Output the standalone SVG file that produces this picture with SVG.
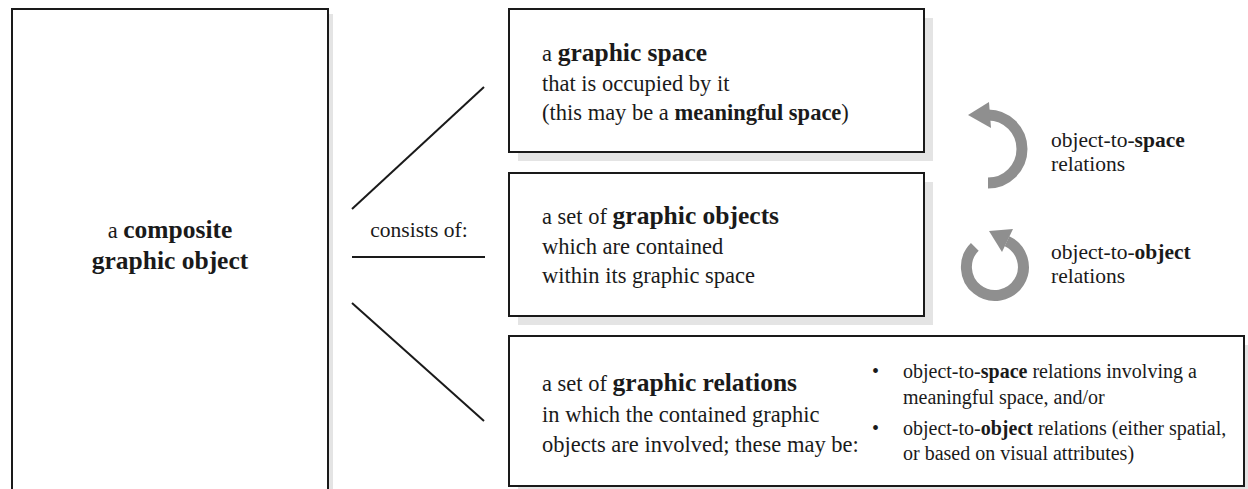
<svg xmlns="http://www.w3.org/2000/svg" width="1248" height="489" viewBox="0 0 1248 489">
<style>
.box{fill:#fff;stroke:#1a1a1a;stroke-width:2}
.shadow{fill:#e4e4e4}
.t{font-family:"Liberation Serif","Times New Roman",serif;font-size:22.5px;fill:#1a1a1a}
.b{font-weight:bold;font-size:25.5px}
.s{font-size:20px}
.m{font-size:21.5px}
.conn{stroke:#1a1a1a;stroke-width:2;fill:none}
.cyc{fill:none;stroke:#8f8f8f;stroke-width:11}
.head{fill:#8f8f8f}
</style>
<rect width="1248" height="489" fill="#fff"/>

<g id="node-composite">
  <rect class="shadow" x="17" y="14" width="316" height="490"/>
  <rect class="box" x="12" y="9" width="316" height="490"/>
  <text class="t" text-anchor="middle" x="170" y="238">a <tspan class="b">composite</tspan></text>
  <text class="t b" text-anchor="middle" x="170" y="269">graphic object</text>
</g>

<g id="connectors">
  <line class="conn" x1="352" y1="209" x2="484" y2="87"/>
  <line class="conn" x1="352" y1="257" x2="485" y2="257"/>
  <line class="conn" x1="352" y1="303" x2="484" y2="421"/>
</g>

<g id="label-consists">
  <text class="t m" text-anchor="middle" x="419" y="237">consists of:</text>
</g>

<g id="node-space">
  <rect class="shadow" x="518" y="18" width="415" height="143"/>
  <rect class="box" x="509" y="9" width="415" height="143"/>
  <text class="t" x="542" y="61">a <tspan class="b">graphic space</tspan></text>
  <text class="t" x="542" y="91">that is occupied by it</text>
  <text class="t" x="542" y="120">(this may be a <tspan font-weight="bold">meaningful space</tspan>)</text>
</g>

<g id="node-objects">
  <rect class="shadow" x="518" y="182" width="415" height="143"/>
  <rect class="box" x="509" y="173" width="415" height="143"/>
  <text class="t" x="542" y="224">a set of <tspan class="b">graphic objects</tspan></text>
  <text class="t" x="542" y="254">which are contained</text>
  <text class="t" x="542" y="283">within its graphic space</text>
</g>

<g id="node-relations">
  <rect class="shadow" x="518" y="345" width="735" height="150"/>
  <rect class="box" x="509" y="336" width="735" height="150"/>
  <text class="t" x="542" y="391">a set of <tspan class="b">graphic relations</tspan></text>
  <text class="t" x="542" y="422">in which the contained graphic</text>
  <text class="t" x="542" y="452">objects are involved; these may be:</text>
  <text class="t s" x="872" y="378">•</text>
  <text class="t s" x="903" y="378">object-to-<tspan font-weight="bold">space</tspan> relations involving a</text>
  <text class="t s" x="903" y="404">meaningful space, and/or</text>
  <text class="t s" x="872" y="435">•</text>
  <text class="t s" x="903" y="435">object-to-<tspan font-weight="bold">object</tspan> relations (either spatial,</text>
  <text class="t s" x="903" y="460">or based on visual attributes)</text>
</g>

<g id="cycle-space">
  <path class="cyc" d="M 988 183 A 34 34 0 0 0 988 115"/>
  <polygon class="head" points="968,115 989,102 991,128"/>
  <text class="t m" x="1051" y="147">object-to-<tspan font-weight="bold">space</tspan></text>
  <text class="t m" x="1051" y="171">relations</text>
</g>

<g id="cycle-object">
  <path class="cyc" d="M 974.8 246.8 A 28.5 28.5 0 1 0 1007 241.2"/>
  <polygon class="head" points="989,231 1013,229 1002,252"/>
  <text class="t m" x="1051" y="259">object-to-<tspan font-weight="bold">object</tspan></text>
  <text class="t m" x="1051" y="283">relations</text>
</g>
</svg>
